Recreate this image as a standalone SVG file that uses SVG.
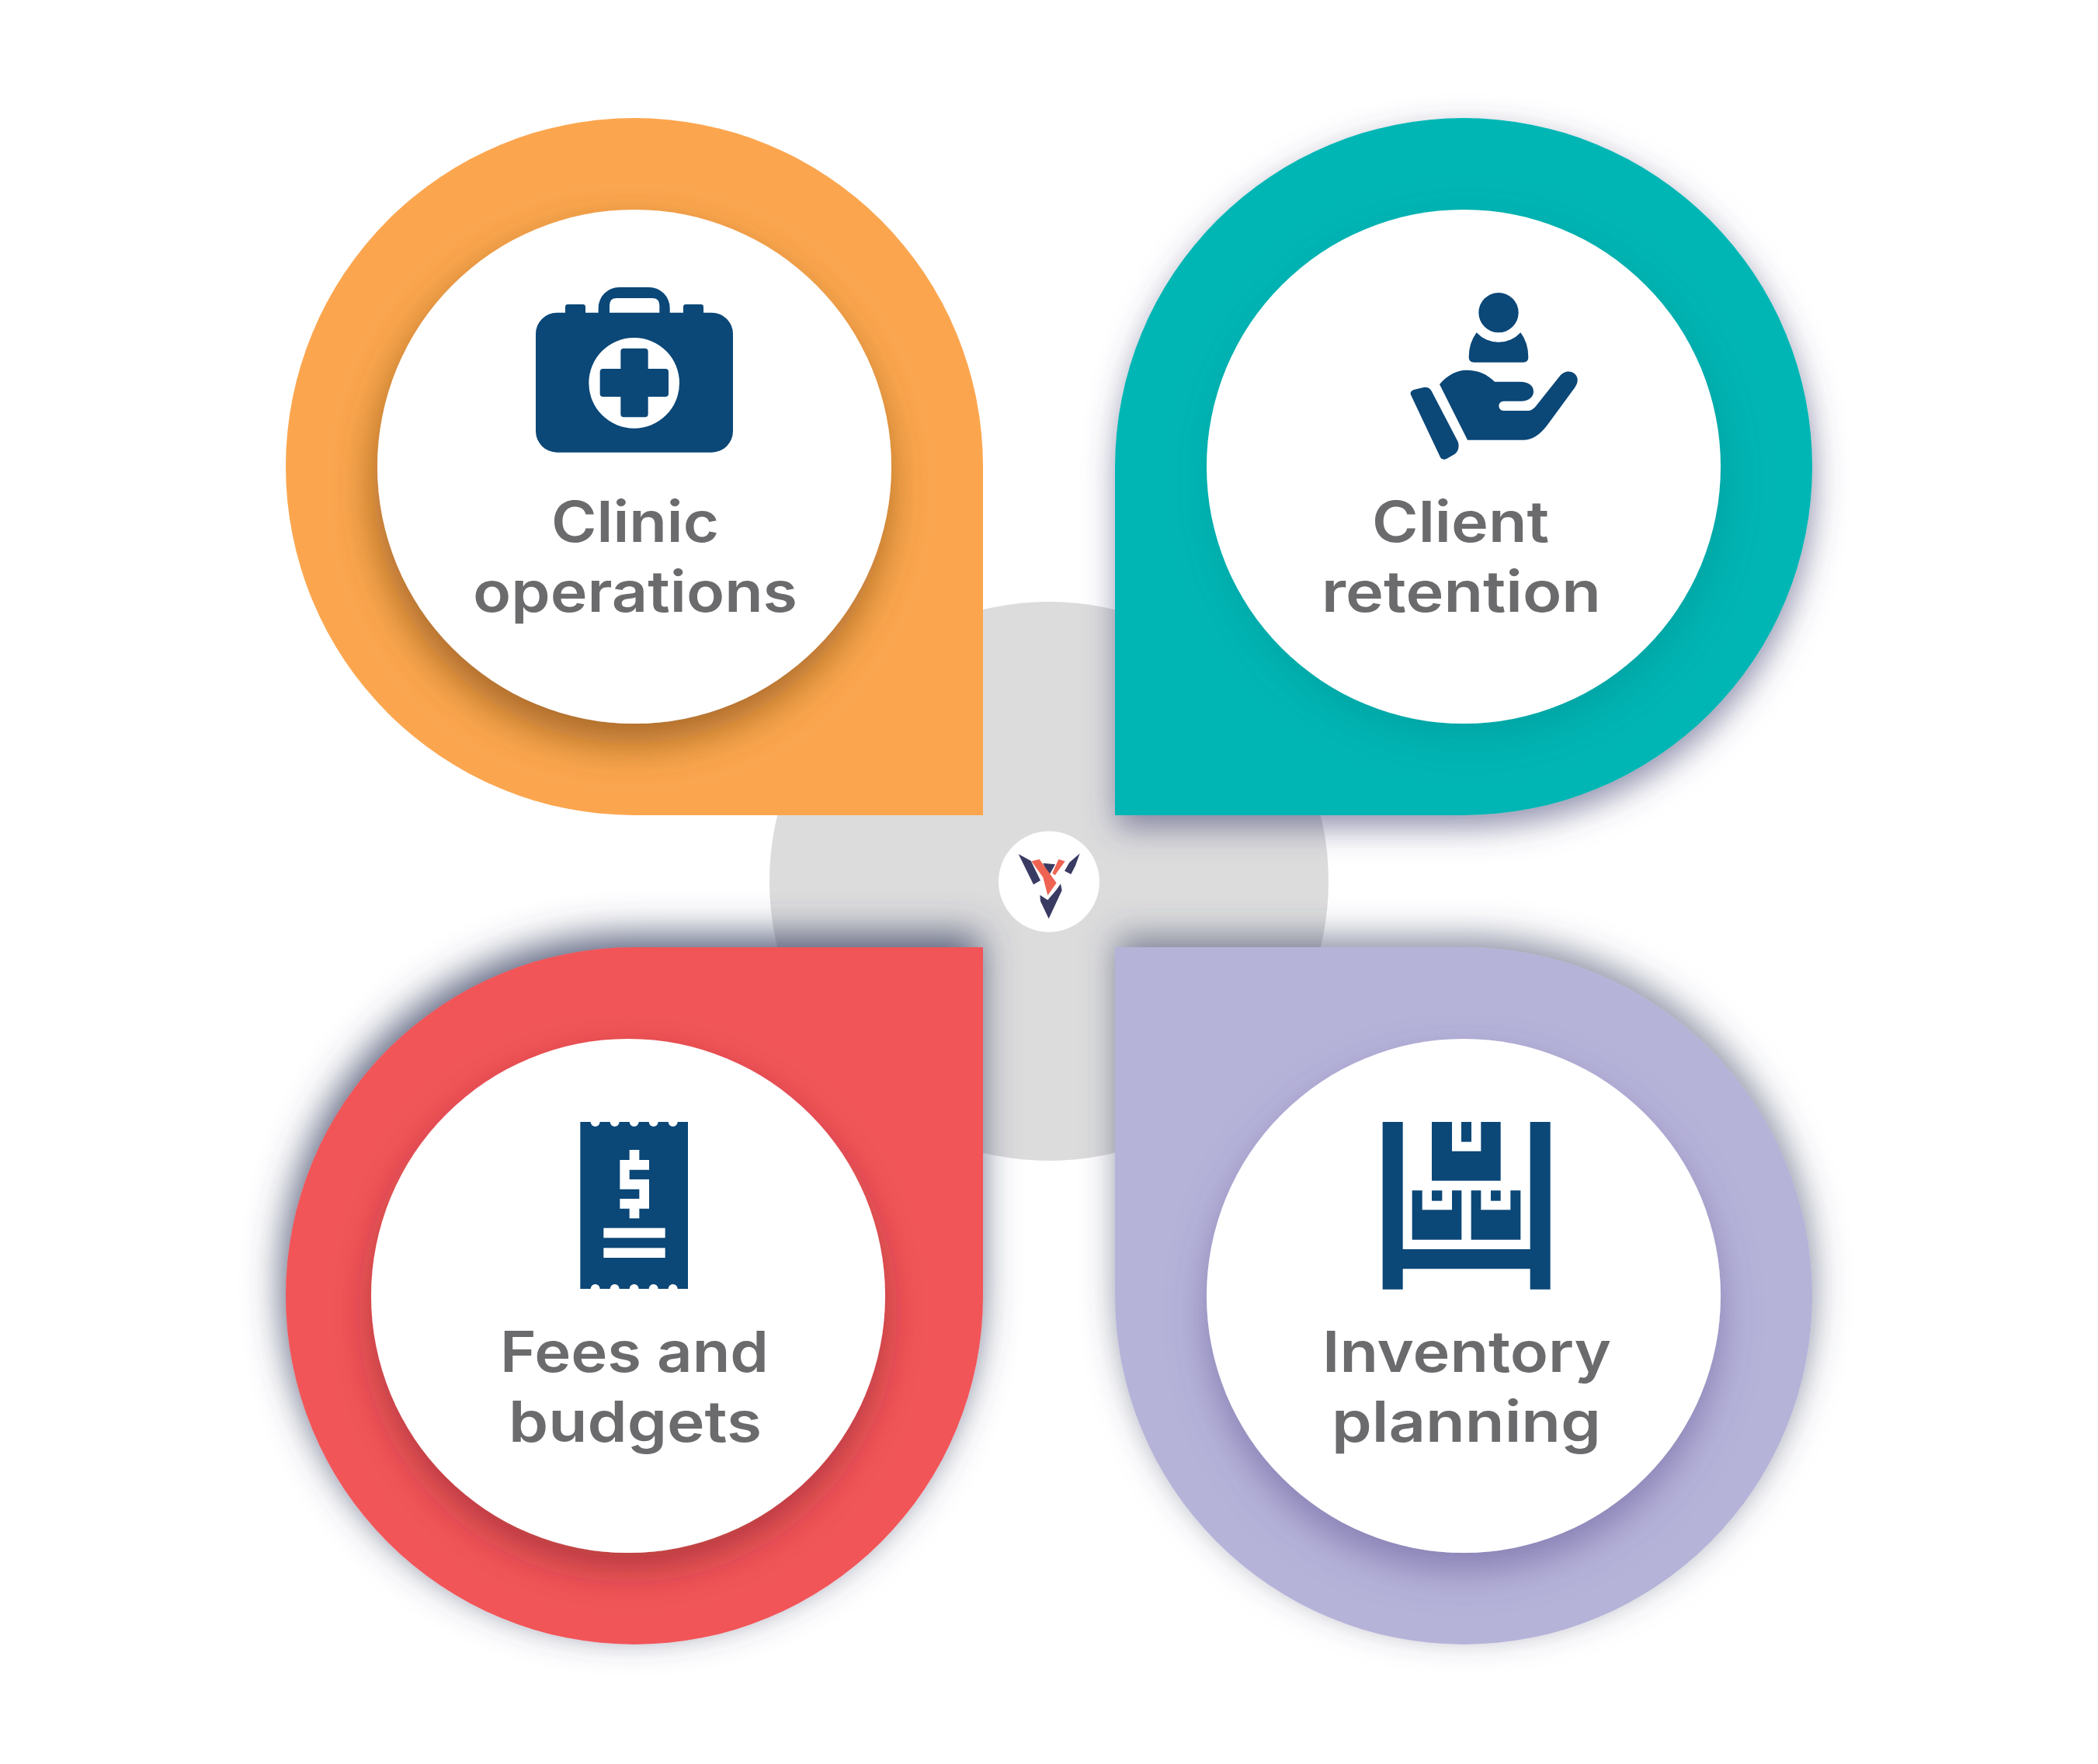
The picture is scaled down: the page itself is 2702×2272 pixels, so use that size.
<svg xmlns="http://www.w3.org/2000/svg" width="2702" height="2272" viewBox="0 0 2702 2272">
<style>
.lbl{font-family:"Inter","Liberation Sans",sans-serif;font-weight:600;font-size:73px;fill:#6b6b6d;text-anchor:start}
.ic{fill:#0b4777}
.w{fill:#fff}
</style>
<defs>
<filter id="outerDown" filterUnits="userSpaceOnUse" x="0" y="0" width="2702" height="2272"><feDropShadow dx="2" dy="16" stdDeviation="20" flood-color="#4a4a78" flood-opacity=".6"/></filter>
<filter id="outerUpRed" filterUnits="userSpaceOnUse" x="0" y="0" width="2702" height="2272"><feDropShadow dx="-4" dy="-16" stdDeviation="24" flood-color="#3f4668" flood-opacity=".85"/></filter>
<filter id="outerUpPur" filterUnits="userSpaceOnUse" x="0" y="0" width="2702" height="2272"><feDropShadow dx="2" dy="-14" stdDeviation="22" flood-color="#3f4668" flood-opacity=".6"/></filter>
<filter id="inO" filterUnits="userSpaceOnUse" x="0" y="0" width="2702" height="2272"><feDropShadow dx="-5" dy="26" stdDeviation="26" flood-color="#7a4a10" flood-opacity=".65"/></filter>
<filter id="inT" filterUnits="userSpaceOnUse" x="0" y="0" width="2702" height="2272"><feDropShadow dx="8" dy="18" stdDeviation="28" flood-color="#006a6a" flood-opacity=".25"/></filter>
<filter id="inR" filterUnits="userSpaceOnUse" x="0" y="0" width="2702" height="2272"><feDropShadow dx="0" dy="22" stdDeviation="24" flood-color="#7a2028" flood-opacity=".5"/></filter>
<filter id="inP" filterUnits="userSpaceOnUse" x="0" y="0" width="2702" height="2272"><feDropShadow dx="0" dy="24" stdDeviation="24" flood-color="#5a4f90" flood-opacity=".5"/></filter>
</defs>
<rect width="2702" height="2272" fill="#fff"/>
<circle id="hub" cx="1351" cy="1135" r="360" fill="#dcdcdd"/>

<g id="clinic-operations">
<path d="M1266,601 V1050 H817 A449,449 0 1 1 1266,601 Z" fill="#fba64f"/>
<circle cx="817" cy="601" r="331" class="w" filter="url(#inO)"/>
<g transform="translate(640,340) scale(.33333)">
<path class="ic" fill-rule="evenodd" d="M150,270 A82,82 0 0 1 232,188 H264 V166 Q264,156 274,156 H332 Q342,156 342,166 V188 H392 V170 A80,80 0 0 1 472,90 H588 A80,80 0 0 1 668,170 V188 H720 V166 Q720,156 730,156 H788 Q798,156 798,166 V188 H830 A82,82 0 0 1 912,270 V646 A82,82 0 0 1 830,728 H232 A82,82 0 0 1 150,646 Z M435,188 H628 V160 Q628,132 600,132 H463 Q435,132 435,160 Z"/>
<circle class="w" cx="530" cy="460" r="175"/>
<path class="ic" d="M478,338 Q478,326 490,326 H572 Q584,326 584,338 V405 H651 Q663,405 663,417 V501 Q663,513 651,513 H584 V580 Q584,592 572,592 H490 Q478,592 478,580 V513 H410 Q398,513 398,501 V417 Q398,405 410,405 H478 Z"/>
</g>
<text class="lbl" x="710" y="698" textLength="216" lengthAdjust="spacingAndGlyphs">Clinic</text>
<text class="lbl" x="609" y="788" textLength="418" lengthAdjust="spacingAndGlyphs">operations</text>
</g>

<g id="client-retention">
<path d="M1436,601 A449,449 0 1 1 1885,1050 H1436 Z" fill="#00b6b5" filter="url(#outerDown)"/>
<circle cx="1885" cy="601" r="331" class="w" filter="url(#inT)"/>
<g transform="translate(1780,350) scale(.33333)" class="ic">
<circle cx="450" cy="158" r="77"/>
<path d="M365,235 A115,115 0 0 0 535,235 Q565,275 565,330 Q565,350 545,350 H355 Q335,350 335,330 Q335,275 365,235 Z"/>
<path d="M222,435 C250,400 290,380 325,380 C370,380 405,395 435,425 H535 C565,425 585,440 585,462 C585,485 565,500 540,500 H470 C445,500 445,537 470,537 H560 C575,537 585,530 595,518 L685,405 C700,385 725,378 745,395 C760,410 757,430 745,447 L640,590 C610,630 580,650 545,650 H330 Z"/>
<path d="M112,478 C105,465 115,458 125,455 L160,447 C175,445 185,450 192,463 L292,655 C300,672 295,695 280,705 L250,722 C240,728 230,725 225,717 Z"/>
</g>
<text class="lbl" x="1767" y="698" textLength="228" lengthAdjust="spacingAndGlyphs">Client</text>
<text class="lbl" x="1702" y="788" textLength="360" lengthAdjust="spacingAndGlyphs">retention</text>
</g>

<g id="fees-and-budgets">
<path d="M1266,1220 V1669 A449,449 0 1 1 817,1220 Z" fill="#f15559" filter="url(#outerUpRed)"/>
<circle cx="809" cy="1669" r="331" class="w" filter="url(#inR)"/>
<g transform="translate(720,1420) scale(.33333)">
<path class="ic" d="M82,75 H122 A18,18 0 0 0 158,75 H197 A18,18 0 0 0 233,75 H272 A18,18 0 0 0 308,75 H347 A18,18 0 0 0 383,75 H422 A18,18 0 0 0 458,75 H498 V720 H458 A18,18 0 0 0 422,720 H383 A18,18 0 0 0 347,720 H308 A18,18 0 0 0 272,720 H233 A18,18 0 0 0 197,720 H158 A18,18 0 0 0 122,720 H82 Z"/>
<path class="w" d="M272,183 H310 V222 H348 V260 H272 V297 H348 V410 H310 V448 H272 V410 H235 V372 H310 V335 H235 V222 H272 Z"/>
<rect class="w" x="172" y="485" width="238" height="38"/>
<rect class="w" x="172" y="562" width="238" height="38"/>
</g>
<text class="lbl" x="644" y="1767" textLength="346" lengthAdjust="spacingAndGlyphs">Fees and</text>
<text class="lbl" x="655" y="1857" textLength="326" lengthAdjust="spacingAndGlyphs">budgets</text>
</g>

<g id="inventory-planning">
<path d="M1436,1220 H1885 A449,449 0 1 1 1436,1669 Z" fill="#b6b3d9" filter="url(#outerUpPur)"/>
<circle cx="1885" cy="1669" r="331" class="w" filter="url(#inP)"/>
<g transform="translate(1760,1420) scale(.33333)" class="ic">
<path d="M62,75 H140 V567 H632 V75 H710 V722 H632 V643 H140 V722 H62 Z"/>
<path d="M252,75 H330 V188 H442 V75 H518 V302 H252 Z"/>
<rect x="366" y="75" width="39" height="77"/>
<path d="M176,340 H215 V415 H330 V340 H367 V530 H176 Z"/>
<rect x="252" y="340" width="40" height="40"/>
<path d="M404,340 H442 V415 H556 V340 H595 V530 H404 Z"/>
<rect x="480" y="340" width="38" height="40"/>
</g>
<text class="lbl" x="1703" y="1767" textLength="372" lengthAdjust="spacingAndGlyphs">Inventory</text>
<text class="lbl" x="1715" y="1857" textLength="347" lengthAdjust="spacingAndGlyphs">planning</text>
</g>

<g id="logo">
<circle cx="1351" cy="1135.500" r="65" class="w"/>
<g transform="translate(1260,1050) scale(.33333)">
<g fill="#3a3b63">
<path d="M155,150 L203,176 L240,252 L213,268 Z"/>
<path d="M250,185 L297,190 L272,235 Z"/>
<path d="M392,148 L375,195 L358,228 L333,215 L352,182 Z"/>
<path d="M238,308 L268,328 L300,290 L318,265 L323,290 L272,400 L240,332 Z"/>
</g>
<g fill="#ee6352">
<path d="M205,178 L236,170 L302,262 L268,310 L250,240 Z"/>
<path d="M310,170 L335,178 L296,232 L286,224 Z"/>
</g>
</g>
</g>
</svg>
